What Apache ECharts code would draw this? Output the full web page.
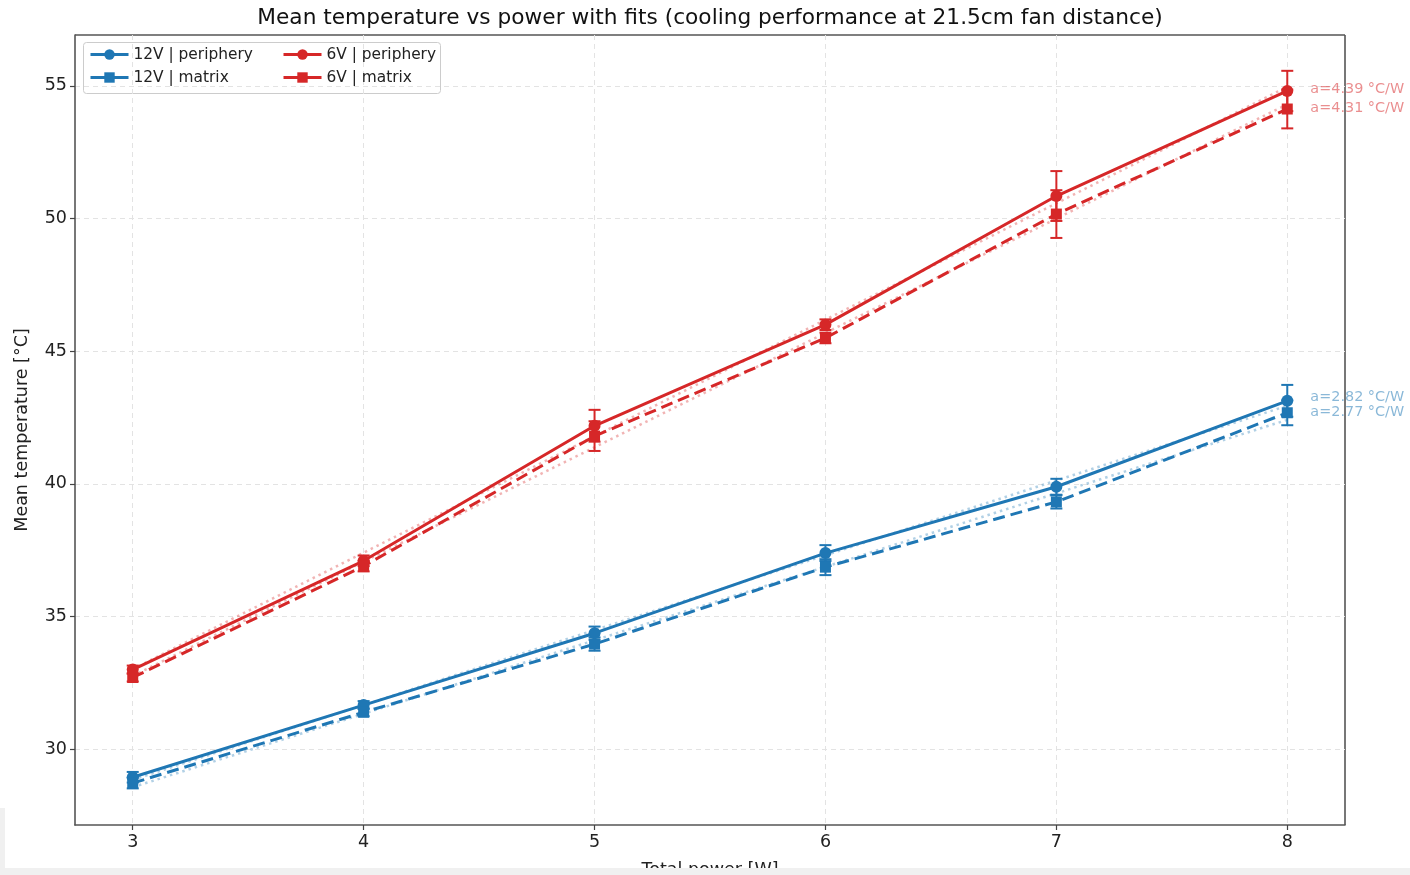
<!DOCTYPE html>
<html>
<head>
<meta charset="utf-8">
<script src="https://cdn.jsdelivr.net/npm/echarts@6/dist/echarts.min.js"></script>
<style>
html,body{margin:0;padding:0;background:#ffffff;}
#chart{width:1410px;height:875px;}
</style>
</head>
<body>
<div id="chart"></div>
<script>
// ---- data ----
const powers = [3, 4, 5, 6, 7, 8];
const xTicks = [3, 4, 5, 6, 7, 8];
const yTicks = [30, 35, 40, 45, 50, 55];

const names = ['12V | periphery', '12V | matrix', '6V | periphery', '6V | matrix'];
const temp12Periphery = [28.94, 31.66, 34.37, 37.39, 39.89, 43.13];
const temp12Matrix    = [28.72, 31.39, 33.96, 36.86, 39.32, 42.68];
const temp6Periphery  = [33.00, 37.10, 42.19, 46.00, 50.85, 54.81];
const temp6Matrix     = [32.70, 36.90, 41.80, 45.50, 50.17, 54.13];

const err12Periphery = [0.20, 0.15, 0.25, 0.30, 0.30, 0.60];
const err12Matrix    = [0.20, 0.15, 0.25, 0.30, 0.25, 0.47];
const err6Periphery  = [0.15, 0.20, 0.60, 0.20, 0.94, 0.76];
const err6Matrix     = [0.15, 0.20, 0.56, 0.20, 0.90, 0.73];

// fitted slopes (°C/W) shown in annotations
const fitSlopes = [2.82, 2.77, 4.39, 4.31];
// annotation vertical positions (data units) at x = 8.1
const annotY = [43.28, 42.71, 54.89, 54.17];
const annotX = 8.1;

// ---- build ----
const blue = '#1f77b4', red = '#d62728';
const temps = [temp12Periphery, temp12Matrix, temp6Periphery, temp6Matrix];
const errs = [err12Periphery, err12Matrix, err6Periphery, err6Matrix];
const colors = [blue, blue, red, red];
const symbols = ['circle', 'rect', 'circle', 'rect'];
const symbolSizes = [12, 11, 12, 11];
const lineTypes = ['solid', 'dashed', 'solid', 'dashed'];
const annotColors = ['rgba(31,119,180,0.65)', 'rgba(31,119,180,0.65)', 'rgba(214,39,40,0.65)', 'rgba(214,39,40,0.65)'];

function mean(a){return a.reduce((s,v)=>s+v,0)/a.length;}

const series = [];
names.forEach((nm, i) => {
  const a = fitSlopes[i];
  const b = mean(temps[i]) - a * mean(powers);
  const x0 = powers[0], x1 = powers[powers.length-1];
  series.push({
    type: 'line', name: nm + ' fit', data: [[x0, a*x0+b], [x1, a*x1+b]],
    symbol: 'none', silent: true, z: 1,
    lineStyle: {color: colors[i], width: 2.5, type: [2.5, 4], opacity: 0.35},
    itemStyle: {color: colors[i]}
  });
  series.push({
    type: 'custom', name: nm + ' err', z: 3, silent: true,
    data: powers.map((x, k) => [x, temps[i][k], errs[i][k]]),
    renderItem: function(params, api){
      const x = api.value(0), y = api.value(1), e = api.value(2);
      const top = api.coord([x, y + e]);
      const bot = api.coord([x, y - e]);
      const hw = 6;
      const st = {stroke: colors[i], lineWidth: 2};
      return {type: 'group', children: [
        {type: 'line', shape: {x1: top[0], y1: top[1], x2: bot[0], y2: bot[1]}, style: st},
        {type: 'line', shape: {x1: top[0]-hw, y1: top[1], x2: top[0]+hw, y2: top[1]}, style: st},
        {type: 'line', shape: {x1: bot[0]-hw, y1: bot[1], x2: bot[0]+hw, y2: bot[1]}, style: st}
      ]};
    }
  });
  series.push({
    type: 'line', name: nm, z: 4,
    data: powers.map((x, k) => [x, temps[i][k]]),
    symbol: symbols[i], symbolSize: symbolSizes[i], showAllSymbol: true,
    lineStyle: {color: colors[i], width: 3, type: lineTypes[i]},
    itemStyle: {color: colors[i]},
    emphasis: {disabled: true}
  });
  series.push({
    type: 'scatter', name: nm + ' annot', z: 5, silent: true,
    data: [[annotX, annotY[i]]], symbolSize: 0,
    label: {show: true, position: 'right', distance: 0,
      formatter: 'a=' + fitSlopes[i].toFixed(2) + ' °C/W',
      color: annotColors[i], fontSize: 14.4, fontFamily: 'DejaVu Sans'}
  });
});

const chart = echarts.init(document.getElementById('chart'), null, {renderer: 'canvas'});
const ff = 'DejaVu Sans';
const legendCommon = {orient: 'vertical', itemGap: 8, itemWidth: 38, itemHeight: 13, selectedMode: false,
  lineStyle: {width: 3, type: 'solid'},
  textStyle: {fontFamily: ff, fontSize: 15.4, color: '#222'}};
chart.setOption({
  animation: false,
  backgroundColor: '#ffffff',
  title: {
    text: 'Mean temperature vs power with fits (cooling performance at 21.5cm fan distance)',
    left: 705, textAlign: 'center', top: 2,
    textStyle: {fontFamily: ff, fontSize: 21.7, fontWeight: 'normal', color: '#111'}
  },
  grid: {left: 75, right: 65, top: 35, bottom: 50, containLabel: false, outerBoundsMode: 'none'},
  xAxis: {
    type: 'value', min: 2.75, max: 8.25,
    name: 'Total power [W]', nameLocation: 'middle', nameGap: 36,
    nameTextStyle: {fontFamily: ff, fontSize: 17.5, color: '#222'},
    axisLine: {show: true, onZero: false, lineStyle: {color: '#555', width: 1.6}},
    axisTick: {show: true, customValues: xTicks, length: 5, lineStyle: {color: '#444', width: 1.2}},
    axisLabel: {customValues: xTicks, fontFamily: ff, fontSize: 17.5, color: '#222', margin: 8},
    splitLine: {show: true, lineStyle: {color: '#e3e3e3', type: [5, 4], width: 1}}
  },
  yAxis: {
    type: 'value', min: 27.14, max: 56.92,
    name: 'Mean temperature [°C]', nameLocation: 'middle', nameGap: 44,
    nameTextStyle: {fontFamily: ff, fontSize: 17.5, color: '#222'},
    axisLine: {show: true, onZero: false, lineStyle: {color: '#555', width: 1.6}},
    axisTick: {show: true, customValues: yTicks, length: 5, lineStyle: {color: '#444', width: 1.2}},
    axisLabel: {customValues: yTicks, fontFamily: ff, fontSize: 17.5, color: '#222', margin: 8},
    splitLine: {show: true, lineStyle: {color: '#e3e3e3', type: [5, 4], width: 1}}
  },
  legend: [
    Object.assign({data: [names[0], names[1]], left: 84, top: 42}, legendCommon),
    Object.assign({data: [names[2], names[3]], left: 277, top: 42}, legendCommon)
  ],
  graphic: [
    {type: 'rect', left: 83, top: 42, z: -1, silent: true,
     shape: {width: 357, height: 51, r: 3},
     style: {fill: 'rgba(255,255,255,0.85)', stroke: '#cccccc', lineWidth: 1}},
    {type: 'line', z: 0, silent: true,
     shape: {x1: 75, y1: 35, x2: 1345, y2: 35}, style: {stroke: '#555', lineWidth: 1.6}},
    {type: 'line', z: 0, silent: true,
     shape: {x1: 1345, y1: 35, x2: 1345, y2: 825}, style: {stroke: '#555', lineWidth: 1.6}},
    {type: 'rect', left: 0, top: 868, z: 100, silent: true,
     shape: {width: 1410, height: 7}, style: {fill: '#f0f0f0'}},
    {type: 'rect', left: 0, top: 808, z: 100, silent: true,
     shape: {width: 5, height: 67}, style: {fill: '#f0f0f0'}}
  ],
  series: series
});
</script>
</body>
</html>
